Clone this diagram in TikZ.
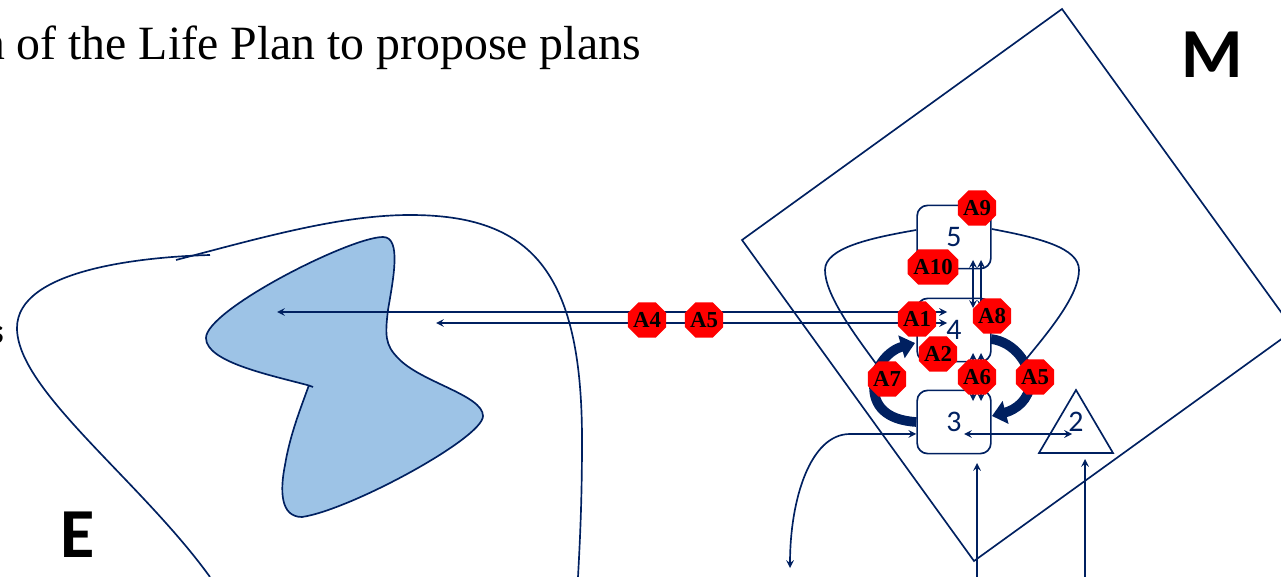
\documentclass[tikz,border=0pt]{standalone}
\usepackage{fontspec}
\setmainfont{Liberation Serif}
\newfontfamily\labelfont{Carlito}
\usetikzlibrary{shapes.misc,arrows.meta}
\definecolor{navy}{RGB}{0,32,96}
\definecolor{skyfill}{RGB}{157,195,230}
\tikzset{
    thin line/.style={draw=navy,line width=0.95pt},
    box/.style={thin line,rounded corners=6pt,minimum width=42pt,minimum height=36pt,inner sep=0pt,text=navy,font=\labelfont\fontsize{17}{17}\selectfont},
    badge/.style={chamfered rectangle,chamfered rectangle xsep=3pt,chamfered rectangle ysep=3pt,fill=red,inner sep=0pt,minimum width=20.5pt,minimum height=20pt,font=\bfseries\fontsize{13}{13}\selectfont},
    thick arc/.style={navy,line width=5.5pt,-{Triangle[length=8pt,width=13pt]}},
}
\begin{document}
\begin{tikzpicture}[>=stealth,x=0.02cm,y=-0.02cm]
    \clip (0,0) rectangle (1281,577);
    % title and letters
    \node[anchor=base east,inner sep=0pt,font=\fontsize{27.2}{27.2}\selectfont] (title) at (641,60) {n of the Life Plan to propose plans};
    \node[font=\labelfont\bfseries\fontsize{40}{40}\selectfont] (letterM) at (1212,55) {M};
    \node[font=\labelfont\bfseries\fontsize{40}{40}\selectfont] (letterE) at (78,535) {E};
    \node[anchor=east,inner sep=0pt,font=\labelfont\bfseries\fontsize{20}{20}\selectfont] (letterS) at (4,335) {s};
    % region E
    \draw[thin line] (176,260) .. controls (260,238) and (340,215) .. (410,215)
        .. controls (530,215) and (582,270) .. (582,440) .. controls (582,500) and (580,540) .. (578,577);
    \draw[thin line] (210,255) .. controls (140,257) and (17,270) .. (17,328)
        .. controls (17,390) and (140,480) .. (210,577);
    \draw[thin line,fill=skyfill] (313,387) -- (309,385.5) .. controls (270,375) and (206,362) .. (206,338)
        .. controls (206,310) and (350,237) .. (383,237) .. controls (402,237) and (393,280) .. (388,310)
        .. controls (385,335) and (385,345) .. (398,358) .. controls (420,382) and (483,395) .. (483,416)
        .. controls (483,438) and (350,510) .. (302,517) .. controls (280,517) and (280,490) .. (285,465)
        .. controls (290,435) and (300,410) .. (309,385);
    % region M
    \draw[thin line] (742,240) -- (1062,9) -- (1294,330) -- (974,561) -- cycle;
    % boxes
    \node[box] (box5) at (954,237) {5};
    \node[box] (box4) at (954,330) {4};
    \node[box] (box3) at (954,422) {3};
    \draw[thin line] (1076,390) -- (1113,453) -- (1039,453) -- cycle;
    \node[text=navy,inner sep=0pt,font=\labelfont\fontsize{17}{17}\selectfont] (tri2) at (1076,422) {2};
    % loop round the boxes
    \draw[thin line] (box5.west|-0,230) .. controls (870,238) and (825,248) .. (825,270)
        .. controls (825,295) and (855,335) .. (877,365);
    \draw[thin line] (box5.east|-0,229) .. controls (1040,238) and (1079,248) .. (1079,270)
        .. controls (1079,295) and (1050,330) .. (1027,358);
    % connectors
    \coordinate (far1) at (277,312);
    \coordinate (far2) at (436,323);
    \draw[thin line,<->] (far1) -- ([shift={(-7,-18)}]box4.center);
    \draw[thin line,<->] (far2) -- ([shift={(-7,-7)}]box4.center);
    \draw[thin line,<->] ([shift={(19,23)}]box5.center) -- ([shift={(19,-22)}]box4.center);
    \draw[thin line,<->] ([shift={(27,23)}]box5.center) -- ([shift={(27,-22)}]box4.center);
    \draw[thin line,<->] ([shift={(19,23)}]box4.center) -- ([shift={(19,-21)}]box3.center);
    \draw[thin line,<->] ([shift={(27,23)}]box4.center) -- ([shift={(27,-21)}]box3.center);
    \draw[thin line,<->] ([shift={(10,12)}]box3.center) -- ([shift={(-4,12)}]tri2.center);
    \coordinate (out1) at (790,568);
    \coordinate (in3) at (977,577);
    \coordinate (in2) at (1085,577);
    \draw[thin line,<->] (out1) .. controls (790,500) and (810,434) .. (850,434) -- ([yshift=-6.8pt]box3.west);
    \draw[thin line,->] (in3) -- (977,463);
    \draw[thin line,->] (in2) -- (1085,459);
    % thick arcs
    \coordinate (tipL) at (915,343);
    \coordinate (tailR) at (991,339);
    \coordinate (tipR) at (992,416);
    \draw[thick arc] (box3.west) .. controls (885,420) and (874,405) .. (874,387) .. controls (874,365) and (890,350) .. (tipL);
    \draw[thick arc] (tailR) .. controls (1015,342) and (1030,365) .. (1030,382) .. controls (1030,400) and (1015,410) .. (tipR);
    % badges
    \node[badge] (a9) at (977,208) {A9};
    \node[badge,minimum width=29pt] (a10) at (933,267) {A10};
    \node[badge] (a1) at (917,319) {A1};
    \node[badge] (a8) at (992,316) {A8};
    \node[badge] (a2) at (938,354) {A2};
    \node[badge] (a7) at (887,379) {A7};
    \node[badge] (a6) at (977,377) {A6};
    \node[badge] (a5) at (1035,377) {A5};
    \node[badge] (a4b) at (647,320) {A4};
    \node[badge] (a5b) at (704,320) {A5};
\end{tikzpicture}
\end{document}
